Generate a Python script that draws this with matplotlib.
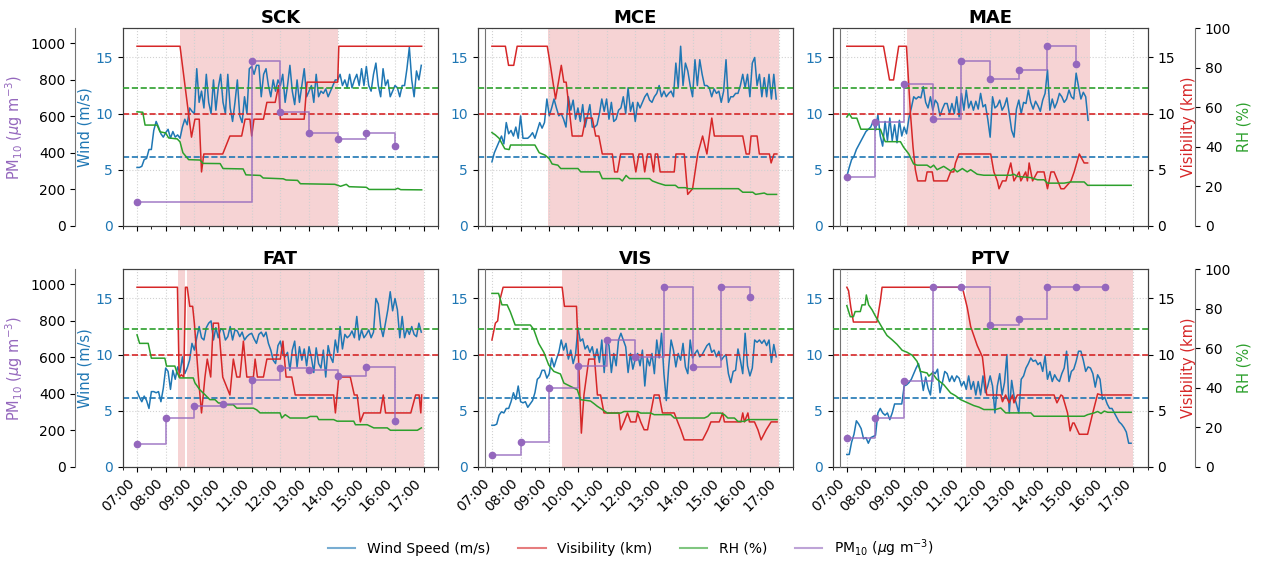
import numpy as np
import matplotlib
matplotlib.use("Agg")
import matplotlib.pyplot as plt
from matplotlib.lines import Line2D
from matplotlib.ticker import MultipleLocator, FuncFormatter

# ---------------- data ----------------
STATIONS = ["SCK", "MCE", "MAE", "FAT", "VIS", "PTV"]
PM_HOURS = [7, 8, 9, 10, 11, 12, 13, 14, 15, 16]
WIND_START = 7.0          # first wind sample (h)
WIND_STEP_MIN = 5         # wind sampled every 5 min
WIND_THR = 6.1            # m/s
VIS_THR = 10.0            # km
RH_THR = 70.0             # %

SCK_WIND = [5.2, 5.2, 5.3, 5.9, 6.0, 6.8, 6.8, 8.5, 9.3, 8.8, 8.2, 7.9,
            8.3, 8.6, 7.8, 8.4, 7.9, 8.1, 7.8, 8.8, 9.5, 9.0, 10.5, 10.2,
            10.0, 14.0, 11.0, 12.0, 10.5, 13.5, 11.0, 10.0, 13.0, 10.3, 12.3, 13.5,
            11.0, 10.0, 13.5, 10.5, 9.3, 11.0, 13.0, 9.8, 9.2, 11.5, 10.0, 14.0,
            14.2, 13.5, 14.3, 14.3, 11.5, 13.5, 14.0, 12.5, 11.5, 13.0, 12.0, 13.0,
            12.5, 13.5, 11.0, 12.5, 14.3, 12.0, 10.8, 13.0, 11.0, 12.5, 14.0, 11.5,
            12.0, 12.5, 11.0, 13.5, 11.5, 12.0, 11.8, 12.2, 11.5, 12.0, 12.5, 13.0,
            13.0, 13.5, 12.5, 13.0, 12.3, 13.5, 12.3, 13.0, 13.5, 12.5, 14.0, 12.5,
            14.2, 12.5, 12.0, 13.5, 14.5, 12.5, 11.5, 14.0, 12.5, 13.0, 11.5, 12.0,
            12.5, 12.3, 11.5, 12.5, 12.5, 14.0, 15.9, 13.0, 11.5, 13.8, 13.0, 14.3]
SCK_VIS_T = [7.0, 8.5, 8.9, 9.02, 9.17, 9.25, 9.33, 9.99, 10.24, 10.65, 10.77, 10.94, 11.0,
             11.08, 11.41, 11.53, 11.82, 11.94, 12.0, 12.83, 12.93, 14.0, 14.04, 16.93]
SCK_VIS = [16.0, 16.0, 7.9, 9.5, 9.5, 4.8, 6.4, 6.4, 8.0, 8.0, 9.5, 9.5, 8.0,
           9.5, 9.5, 11.0, 11.0, 12.5, 9.5, 9.5, 12.8, 12.8, 16.0, 16.0]
SCK_RH_T = [7.0, 7.2, 7.28, 7.7, 7.8, 8.0, 8.1, 8.4, 8.5, 8.6, 8.8, 9.2, 9.3, 9.9, 10.0,
            10.7, 10.8, 11.3, 11.4, 12.1, 12.2, 12.6, 12.7, 13.9, 14.1, 14.3, 14.4, 15.0,
            15.1, 16.0, 16.1, 16.2, 16.93]
SCK_RH = [57.7, 57.5, 51.0, 51.0, 47.6, 47.0, 44.5, 44.0, 42.5, 37.0, 33.5, 33.3, 31.6, 31.5, 29.0,
          28.8, 25.8, 25.5, 24.2, 23.8, 23.2, 23.0, 21.3, 21.0, 20.0, 21.0, 19.8, 19.5,
          18.4, 18.4, 19.0, 18.3, 18.2]
SCK_PM10 = [129, None, None, None, 902, 623, 510, 474, 507, 437]
SCK_EVENT = [(8.5, 14.0)]

MCE_WIND = [5.7, 6.5, 7.0, 7.5, 8.0, 7.3, 9.2, 8.2, 8.5, 8.0, 8.8, 7.8,
            9.8, 7.8, 7.8, 7.8, 8.0, 8.3, 7.8, 8.5, 9.2, 8.7, 9.2, 11.3,
            9.8, 10.5, 11.3, 10.5, 9.8, 10.0, 9.5, 8.8, 11.5, 10.3, 11.2, 9.5,
            10.5, 9.3, 10.8, 8.8, 9.8, 10.8, 8.8, 8.8, 9.0, 10.0, 11.3, 10.2,
            11.3, 9.5, 11.0, 9.3, 9.5, 10.3, 10.5, 11.5, 10.0, 12.3, 10.2, 11.0,
            9.3, 11.0, 10.5, 11.0, 11.5, 11.8, 11.2, 11.0, 11.5, 11.8, 12.5, 11.5,
            12.0, 11.5, 11.8, 12.0, 11.5, 14.5, 12.3, 16.0, 12.5, 14.5, 13.8, 12.5,
            11.5, 14.8, 12.5, 14.8, 13.5, 12.5, 12.5, 12.3, 11.5, 12.2, 11.8, 12.0,
            11.0, 12.0, 14.8, 11.0, 11.5, 11.5, 11.8, 11.8, 12.5, 13.5, 12.3, 13.5,
            11.5, 14.5, 15.0, 12.5, 13.5, 11.5, 13.2, 11.5, 13.5, 11.3, 13.5, 11.3]
MCE_VIS_T = [7.0, 7.47, 7.58, 7.76, 7.88, 8.93, 9.04, 9.22, 9.42, 9.51, 9.59, 9.80, 10.15,
             10.27, 10.50, 10.62, 10.73, 10.85, 11.20, 11.28, 11.38, 11.49, 11.92, 12.02,
             12.13, 12.25, 12.33, 12.43, 12.54, 12.64, 12.70, 12.78, 12.87, 13.36, 13.42,
             13.71, 13.83, 14.0, 14.18, 14.35, 14.50, 14.67, 14.76, 15.75, 15.87, 15.98,
             16.04, 16.25, 16.33, 16.68, 16.74, 16.84, 16.94]
MCE_VIS = [16.0, 16.0, 14.3, 14.3, 16.0, 16.0, 14.3, 11.3, 14.3, 12.8, 12.8, 8.0, 8.0,
           9.6, 9.6, 8.0, 8.0, 6.4, 6.4, 4.8, 4.8, 6.4, 6.4, 4.8,
           6.4, 6.4, 4.8, 6.4, 6.4, 4.8, 6.4, 6.4, 4.8, 4.8, 6.4,
           6.4, 2.8, 3.3, 6.4, 8.0, 6.4, 9.6, 8.0, 8.0, 6.4, 6.4,
           8.0, 8.0, 6.4, 6.4, 5.6, 6.4, 6.4]
MCE_RH_T = [7.0, 7.12, 7.25, 7.45, 7.60, 7.65, 8.5, 8.65, 8.85, 9.0, 9.1, 9.3, 9.4, 10.0,
            10.1, 10.75, 10.85, 11.45, 11.55, 11.68, 11.8, 12.5, 12.6, 12.8, 13.05, 13.4,
            13.5, 13.75, 13.85, 15.6, 15.75, 16.1, 16.2, 16.5, 16.6, 16.93]
MCE_RH = [47.2, 46.0, 44.3, 39.0, 38.6, 40.9, 40.9, 37.0, 35.8, 34.0, 31.3, 30.7, 29.0, 29.0,
          27.3, 27.3, 23.9, 23.9, 22.7, 25.5, 23.9, 23.9, 22.7, 21.6, 20.5, 20.5,
          19.3, 19.3, 18.8, 18.8, 17.0, 17.0, 15.9, 16.6, 15.9, 15.9]
MCE_PM10 = [None] * 10
MCE_EVENT = [(8.95, 17.0)]

MAE_WIND = [4.4, 5.2, 5.9, 6.2, 6.8, 7.2, 7.6, 8.0, 8.4, 8.6, 8.8, 9.3,
            8.5, 9.9, 8.0, 7.1, 9.3, 7.6, 9.6, 7.6, 9.0, 7.4, 9.4, 8.0,
            8.8, 8.2, 9.6, 10.5, 11.5, 11.3, 11.5, 11.4, 12.4, 11.0, 10.5, 11.5,
            10.3, 11.2, 10.9, 9.8, 10.4, 10.9, 10.9, 10.0, 10.9, 10.0, 11.5, 9.7,
            11.8, 10.3, 12.1, 10.5, 11.1, 10.3, 11.1, 10.4, 11.8, 10.6, 10.8, 9.5,
            7.9, 11.5, 10.5, 10.7, 11.2, 10.3, 10.7, 11.4, 10.0, 8.5, 7.9, 10.4,
            11.2, 10.0, 11.0, 10.9, 12.1, 11.0, 10.4, 11.1, 10.7, 10.2, 11.2, 11.8,
            13.9, 10.3, 11.3, 10.5, 11.0, 11.8, 11.5, 11.0, 11.3, 12.1, 11.5, 11.3,
            13.6, 12.4, 11.3, 11.9, 11.5, 9.4]
MAE_VIS_T = [7.0, 8.28, 8.49, 8.63, 8.81, 9.08, 9.22, 9.31, 9.39, 9.47, 9.74, 9.80, 9.98,
             10.03, 10.50, 10.62, 10.73, 10.79, 10.91, 12.02, 12.13, 12.25, 12.31, 12.43,
             12.55, 12.72, 12.83, 13.01, 13.07, 13.24, 13.30, 13.36, 13.48, 13.65, 13.88,
             14.0, 14.12, 14.23, 14.47, 14.58, 14.82, 14.93, 15.11, 15.28, 15.40]
MAE_VIS = [16.0, 16.0, 13.0, 13.0, 16.0, 16.0, 10.0, 7.0, 5.0, 4.0, 4.0, 4.8, 4.8,
           4.0, 4.0, 4.8, 4.8, 5.6, 6.4, 6.4, 4.8, 4.0, 3.3, 4.0,
           4.0, 5.6, 4.0, 4.8, 4.0, 4.8, 4.0, 5.6, 4.0, 4.8, 4.8,
           3.3, 4.8, 4.8, 3.3, 3.3, 4.0, 4.8, 6.4, 5.6, 5.6]
MAE_RH_T = [7.0, 7.08, 7.18, 7.35, 7.49, 8.17, 8.34, 8.87, 8.98, 9.16, 9.33, 9.45, 9.80,
            9.92, 10.03, 10.15, 10.38, 10.62, 10.73, 10.85, 11.03, 11.20, 11.32, 11.55,
            11.78, 12.72, 12.83, 12.95, 13.42, 13.65, 13.88, 14.0, 14.58, 14.82, 15.28,
            15.40, 16.92]
MAE_RH = [55.1, 56.8, 54.5, 54.5, 48.9, 48.9, 42.6, 42.6, 39.8, 36.4, 31.3, 30.7, 30.7,
          29.5, 30.7, 28.4, 30.1, 27.8, 29.0, 27.3, 29.0, 27.3, 28.4, 26.1,
          25.6, 25.6, 26.1, 25.0, 24.4, 23.3, 23.3, 21.6, 21.6, 22.2, 22.2,
          20.5, 20.5]
MAE_PM10 = [270, 570, 776, 585, 902, 805, 851, 986, 889, None]
MAE_EVENT = [(9.1, 15.48)]

FAT_WIND = [6.7, 6.2, 5.8, 6.3, 5.9, 5.2, 6.7, 6.7, 6.6, 6.7, 5.8, 7.0,
            8.8, 8.5, 6.9, 8.6, 7.8, 8.9, 8.4, 9.8, 8.3, 8.8, 9.5, 11.0,
            10.4, 11.5, 12.5, 11.5, 11.3, 12.4, 12.8, 13.0, 11.3, 12.4, 11.5, 12.3,
            12.2, 11.3, 11.6, 12.5, 11.3, 12.2, 12.1, 11.6, 12.0, 11.3, 11.6, 11.8,
            11.9, 11.4, 11.0, 11.8, 12.0, 11.6, 12.0, 11.0, 10.4, 9.5, 9.2, 10.8,
            11.2, 10.1, 9.8, 10.2, 8.6, 10.4, 11.2, 8.9, 10.7, 9.5, 10.5, 9.0,
            10.7, 9.7, 8.4, 10.6, 9.2, 8.8, 10.4, 8.0, 10.8, 9.8, 9.3, 11.3,
            10.2, 12.5, 10.5, 11.8, 11.5, 11.7, 12.1, 11.5, 13.4, 11.3, 12.2, 11.5,
            11.8, 12.2, 11.5, 12.0, 15.0, 14.5, 12.5, 11.6, 12.8, 14.0, 15.6, 13.9,
            15.0, 14.0, 11.5, 13.4, 11.5, 12.3, 11.8, 12.5, 11.8, 11.6, 12.8, 12.0]
FAT_VIS_T = [7.0, 8.41, 8.47, 8.55, 8.63, 8.69, 8.75, 8.84, 8.94, 9.0, 9.14, 9.25, 9.37,
             9.45, 9.57, 9.66, 9.84, 9.99, 10.24, 10.36, 10.48, 10.59, 10.65, 10.71, 10.83,
             11.06, 11.12, 11.2, 11.41, 11.53, 12.0, 12.09, 12.2, 12.4, 12.52, 12.69, 13.86,
             13.92, 14.04, 14.44, 14.58, 14.68, 14.79, 14.91, 15.49, 15.59, 15.67, 16.02,
             16.55, 16.72, 16.84, 16.9, 16.93]
FAT_VIS = [16.0, 16.0, 8.0, 8.2, 8.0, 16.0, 16.0, 14.3, 14.3, 12.8, 8.0, 4.8, 8.0,
           9.6, 8.0, 12.8, 12.8, 8.0, 6.4, 9.6, 8.0, 8.0, 9.6, 11.2, 8.0,
           8.0, 9.6, 8.0, 8.0, 9.6, 9.6, 11.2, 8.0, 8.0, 6.4, 6.4, 6.4,
           4.8, 8.0, 8.0, 6.4, 6.4, 4.0, 4.8, 4.8, 6.4, 4.8, 4.8,
           4.8, 6.4, 6.4, 4.8, 6.4]
FAT_RH_T = [7.0, 7.09, 7.39, 7.50, 7.97, 8.03, 8.32, 8.38, 8.49, 8.96, 9.02, 9.19, 9.37,
            9.54, 9.72, 9.84, 9.95, 10.01, 10.36, 10.48, 11.06, 11.18, 11.29, 11.99, 12.05,
            12.17, 12.34, 12.93, 13.04, 13.28, 13.34, 13.86, 13.98, 14.56, 14.62, 15.03,
            15.26, 15.73, 15.84, 16.78, 16.92]
FAT_RH = [66.8, 62.5, 62.5, 55.0, 55.0, 51.0, 51.0, 48.3, 45.0, 45.0, 42.5, 39.0, 36.5,
          34.0, 34.0, 32.3, 32.3, 31.4, 31.4, 29.7, 29.7, 28.8, 27.3, 27.3, 24.7,
          26.4, 24.7, 24.7, 25.5, 25.5, 23.9, 23.9, 23.1, 23.1, 21.3, 21.3,
          19.7, 19.7, 18.5, 18.5, 19.7]
FAT_PM10 = [125, 266, 332, 346, 477, 541, 532, 499, 545, 250]
FAT_EVENT = [(8.43, 8.69), (8.75, 17.0)]

VIS_WIND = [3.7, 3.7, 3.8, 4.6, 4.9, 4.8, 5.2, 5.2, 5.8, 6.6, 6.0, 7.2,
            5.8, 5.7, 5.8, 5.3, 5.6, 5.9, 6.6, 7.8, 8.0, 8.6, 8.6, 7.9,
            8.3, 9.7, 8.9, 9.6, 10.2, 11.3, 10.4, 11.0, 9.6, 10.4, 9.2, 10.0,
            12.4, 11.2, 11.4, 10.5, 10.8, 10.2, 10.7, 9.6, 10.5, 9.3, 11.3, 8.4,
            11.4, 10.8, 8.4, 10.1, 9.0, 11.3, 11.9, 11.3, 10.7, 8.4, 10.1, 8.7,
            9.6, 10.1, 9.0, 10.4, 7.2, 9.7, 9.0, 10.1, 8.3, 11.3, 9.7, 11.9,
            8.3, 5.9, 8.9, 11.3, 10.4, 8.9, 10.1, 9.5, 11.0, 8.9, 8.3, 11.3,
            9.7, 10.1, 10.4, 9.8, 10.0, 10.4, 10.8, 11.0, 10.2, 10.4, 9.8, 10.3,
            9.5, 9.8, 10.0, 8.3, 7.5, 8.5, 8.6, 10.5, 9.5, 8.3, 11.9, 9.0,
            8.1, 8.8, 11.3, 11.1, 11.3, 11.0, 11.3, 10.8, 11.3, 9.3, 10.9, 9.8]
VIS_VIS_T = [7.0, 7.12, 7.20, 7.29, 7.39, 9.45, 9.53, 9.95, 10.12, 10.21, 10.38, 10.58,
             10.68, 10.79, 10.91, 11.43, 11.49, 11.61, 11.73, 11.84, 12.02, 12.08, 12.19,
             12.31, 12.43, 12.54, 12.66, 12.83, 12.95, 13.36, 13.48, 13.59, 13.71, 14.35,
             14.53, 14.64, 14.93, 15.05, 15.11, 15.69, 15.75, 15.81, 15.93, 15.98, 16.16,
             16.28, 16.39, 16.57, 16.74, 16.95]
VIS_VIS = [11.3, 12.8, 13.0, 15.0, 16.0, 16.0, 14.3, 14.3, 3.0, 6.4, 9.6, 9.6,
           6.4, 6.4, 4.8, 4.8, 3.3, 4.0, 4.8, 4.0, 4.0, 4.8, 4.0,
           3.3, 3.3, 4.8, 6.4, 6.4, 4.8, 4.8, 4.0, 3.3, 2.4, 2.4,
           3.3, 4.0, 4.0, 4.8, 4.0, 4.0, 4.8, 4.0, 4.8, 4.0, 4.0,
           3.3, 2.4, 3.3, 4.0, 4.0]
VIS_RH_T = [7.0, 7.23, 7.35, 7.53, 7.64, 7.81, 8.34, 8.46, 8.63, 8.81, 8.98, 9.16, 9.39,
            9.51, 9.98, 10.09, 10.44, 10.56, 10.68, 10.85, 11.03, 11.49, 11.61, 12.08,
            12.19, 12.54, 12.66, 13.24, 13.36, 14.41, 14.53, 14.64, 14.99, 15.11, 15.23,
            15.46, 15.58, 15.81, 15.93, 16.95]
VIS_RH = [87.8, 87.8, 82.0, 82.0, 78.5, 71.8, 71.8, 69.5, 62.5, 58.0, 51.6, 48.3, 47.0,
          42.4, 39.0, 34.0, 33.3, 32.0, 30.6, 29.0, 27.2, 27.2, 28.0, 28.0,
          27.2, 27.2, 26.4, 26.4, 24.7, 24.7, 25.5, 27.2, 27.2, 26.4, 24.7,
          24.7, 23.0, 23.0, 23.9, 23.9]
VIS_PM10 = [64, 136, 432, 550, 696, 601, 987, 545, 987, 929]
VIS_EVENT = [(9.45, 17.0)]

PTV_WIND = [1.1, 1.1, 2.2, 2.9, 4.1, 3.8, 3.4, 2.5, 2.6, 2.1, 2.6, 2.7,
            2.8, 4.8, 5.2, 4.8, 4.6, 4.8, 4.2, 4.8, 5.6, 5.6, 5.6, 5.6,
            7.2, 7.3, 7.5, 7.8, 8.3, 8.8, 9.2, 8.3, 6.8, 8.0, 7.0, 6.4,
            8.5, 8.3, 8.7, 6.6, 7.5, 8.5, 8.3, 7.6, 8.1, 7.6, 8.1, 7.9,
            7.2, 7.6, 6.9, 8.1, 6.9, 7.6, 6.4, 7.6, 6.4, 8.1, 6.6, 7.2,
            8.1, 7.2, 4.8, 7.2, 8.3, 6.4, 7.5, 10.0, 4.8, 7.7, 6.3, 5.6,
            4.8, 7.8, 8.1, 8.8, 9.2, 9.7, 9.4, 9.5, 9.1, 9.3, 8.5, 9.9,
            7.8, 8.5, 7.6, 8.2, 7.8, 7.6, 8.3, 8.8, 10.3, 7.6, 8.5, 8.7,
            9.4, 10.3, 10.3, 9.5, 8.5, 8.9, 8.8, 8.3, 7.1, 8.2, 7.8, 6.0,
            6.2, 5.6, 5.2, 5.2, 4.8, 4.4, 4.0, 3.8, 3.5, 3.1, 2.1, 2.1]
PTV_VIS_T = [7.0, 7.06, 7.14, 7.23, 7.99, 8.05, 8.17, 8.23, 11.03, 11.2, 11.32, 11.55,
             11.73, 11.88, 12.37, 12.43, 12.54, 12.66, 12.78, 12.83, 12.95, 14.23, 14.33,
             14.47, 14.53, 14.70, 14.79, 14.88, 14.93, 15.11, 15.40, 15.58, 15.75, 15.87,
             16.92]
PTV_VIS = [16.0, 15.7, 14.2, 12.9, 12.9, 12.9, 14.8, 16.0, 16.0, 14.2, 12.5, 10.8,
           9.8, 6.4, 6.4, 5.8, 6.4, 5.7, 6.4, 5.7, 6.4, 6.4, 5.7,
           6.4, 6.3, 4.8, 3.2, 3.9, 3.9, 2.9, 2.9, 4.8, 6.5, 6.4,
           6.4]
PTV_RH_T = [7.0, 7.12, 7.23, 7.29, 7.47, 7.53, 7.64, 7.68, 7.76, 7.88, 7.99, 8.11, 8.23,
            8.40, 8.58, 8.75, 8.93, 9.10, 9.28, 9.45, 9.57, 9.80, 9.86, 9.98, 10.13,
            10.38, 10.62, 10.79, 10.97, 11.20, 11.43, 11.61, 11.78, 12.19, 12.37, 12.54,
            13.42, 13.53, 15.28, 15.40, 15.63, 15.75, 15.87, 15.98, 16.10, 16.92]
PTV_RH = [81.6, 76.0, 76.0, 78.6, 78.6, 82.0, 82.0, 87.0, 82.0, 79.5, 76.5, 73.5, 70.5,
          66.5, 64.3, 62.0, 59.0, 58.0, 56.5, 53.4, 48.3, 47.5, 45.9, 47.5, 44.5,
          41.6, 37.4, 36.0, 34.0, 32.5, 31.0, 30.2, 29.0, 29.0, 29.8, 27.3,
          27.3, 25.6, 25.6, 26.4, 27.3, 28.0, 27.0, 28.2, 27.6, 27.6]
PTV_PM10 = [158, 268, 472, 987, 987, 778, 809, 987, 987, 987]
PTV_EVENT = [(11.17, 17.0)]

# --------------- assemble ---------------
DATA = {
    "SCK": (SCK_WIND, SCK_VIS_T, SCK_VIS, SCK_RH_T, SCK_RH, SCK_PM10, SCK_EVENT),
    "MCE": (MCE_WIND, MCE_VIS_T, MCE_VIS, MCE_RH_T, MCE_RH, MCE_PM10, MCE_EVENT),
    "MAE": (MAE_WIND, MAE_VIS_T, MAE_VIS, MAE_RH_T, MAE_RH, MAE_PM10, MAE_EVENT),
    "FAT": (FAT_WIND, FAT_VIS_T, FAT_VIS, FAT_RH_T, FAT_RH, FAT_PM10, FAT_EVENT),
    "VIS": (VIS_WIND, VIS_VIS_T, VIS_VIS, VIS_RH_T, VIS_RH, VIS_PM10, VIS_EVENT),
    "PTV": (PTV_WIND, PTV_VIS_T, PTV_VIS, PTV_RH_T, PTV_RH, PTV_PM10, PTV_EVENT),
}

C_WIND, C_VIS, C_RH, C_PM = "tab:blue", "tab:red", "tab:green", "tab:purple"
W, H = 1261, 563
fig = plt.figure(figsize=(W / 100, H / 100), dpi=100)

AX_W, AX_H = 315.3, 197.5
COL_L = [122.7, 477.6, 832.5]
ROW_T = [28.3, 269.3]
WIND_TOP = 17.6
PM_TOP = 1082
FRAME = "0.25"

hour_fmt = FuncFormatter(lambda x, pos: f"{int(round(x)):02d}:00")

for i, st in enumerate(STATIONS):
    r, c = divmod(i, 3)
    wind, vis_t, vis, rh_t, rh, pm, events = DATA[st]
    rect = [COL_L[c] / W, 1 - (ROW_T[r] + AX_H) / H, AX_W / W, AX_H / H]
    ax = fig.add_axes(rect)
    axv = ax.twinx()
    axr = ax.twinx()
    axp = ax.twinx()

    for a, b in events:
        ax.axvspan(a, b, color=C_VIS, alpha=0.2, lw=0, zorder=0)

    tw = WIND_START + np.arange(len(wind)) * WIND_STEP_MIN / 60.0
    ax.plot(tw, wind, color=C_WIND, lw=1.1)
    ax.axhline(WIND_THR, color=C_WIND, ls="--", lw=1.2)
    axv.plot(vis_t, vis, color=C_VIS, lw=1.1)
    axv.axhline(VIS_THR, color=C_VIS, ls="--", lw=1.2)
    axr.plot(rh_t, rh, color=C_RH, lw=1.1)
    axr.axhline(RH_THR, color=C_RH, ls="--", lw=1.2)

    ph = np.array([h for h, v in zip(PM_HOURS, pm) if v is not None], dtype=float)
    pv = np.array([v for v in pm if v is not None], dtype=float)
    if len(ph):
        axp.step(ph, pv, where="post", color=C_PM, lw=1.2, alpha=0.8)
        axp.plot(ph, pv, "o", color=C_PM, ms=4.5)

    ax.set_xlim(6.5, 17.5)
    ax.xaxis.set_major_locator(MultipleLocator(1))
    ax.xaxis.set_minor_locator(MultipleLocator(0.5))
    ax.xaxis.set_major_formatter(hour_fmt)
    ax.grid(True, which="major", ls=":", color="0.82", lw=0.8)
    ax.tick_params(axis="x", which="major", length=3.5, labelsize=10)
    ax.tick_params(axis="x", which="minor", length=2)
    if r == 0:
        ax.tick_params(axis="x", labelbottom=False)
    else:
        plt.setp(ax.get_xticklabels(), rotation=45, ha="right")

    ax.set_ylim(0, WIND_TOP)
    ax.set_yticks([0, 5, 10, 15])
    ax.tick_params(axis="y", labelcolor=C_WIND, labelsize=10)
    axv.set_ylim(0, WIND_TOP)
    axv.set_yticks([0, 5, 10, 15])
    axr.set_ylim(0, 100)
    axr.set_yticks(range(0, 101, 20))
    axp.set_ylim(0, PM_TOP)
    axp.set_yticks(range(0, 1001, 200))

    ax.set_title(st, fontsize=13, fontweight="bold", pad=4)

    # PM10 axis
    axp.yaxis.set_ticks_position("left")
    axp.yaxis.set_label_position("left")
    axp.spines["right"].set_visible(False)
    axp.spines["top"].set_visible(False)
    axp.spines["bottom"].set_visible(False)
    if c == 0:
        axp.spines["left"].set_position(("axes", -0.15))
        axp.tick_params(axis="y", labelsize=10)
        axp.set_ylabel(r"PM$_{10}$ ($\mu$g m$^{-3}$)", color=C_PM, fontsize=10.5)
        ax.set_ylabel("Wind (m/s)", color=C_WIND, fontsize=10.5, labelpad=2)
        axp.spines["left"].set_color("0.45")
    else:
        axp.spines["left"].set_position(("axes", 0.023))
        axp.tick_params(axis="y", left=False, labelleft=False)
        axp.spines["left"].set_color("0.45")

    # visibility / RH axes
    axr.spines["left"].set_visible(False)
    axr.spines["top"].set_visible(False)
    axr.spines["bottom"].set_visible(False)
    if c == 2:
        axv.tick_params(axis="y", labelsize=10)
        axv.set_ylabel("Visibility (km)", color=C_VIS, fontsize=10.5)
        axr.spines["right"].set_position(("axes", 1.15))
        axr.spines["right"].set_color("0.45")
        axr.tick_params(axis="y", labelsize=10)
        axr.set_ylabel("RH (%)", color=C_RH, fontsize=10.5)
    else:
        axv.tick_params(axis="y", right=False, labelright=False)
        axr.tick_params(axis="y", right=False, labelright=False)
        axr.spines["right"].set_visible(False)

    for a in (ax, axv):
        for s in a.spines.values():
            s.set_color(FRAME)

handles = [
    Line2D([], [], color=C_WIND, lw=1.5, alpha=0.6, label="Wind Speed (m/s)"),
    Line2D([], [], color=C_VIS, lw=1.5, alpha=0.6, label="Visibility (km)"),
    Line2D([], [], color=C_RH, lw=1.5, alpha=0.6, label="RH (%)"),
    Line2D([], [], color=C_PM, lw=1.5, alpha=0.6, label=r"PM$_{10}$ ($\mu$g m$^{-3}$)"),
]
fig.legend(handles=handles, loc="center", bbox_to_anchor=(0.5, 1 - 548 / H), ncol=4,
           frameon=False, fontsize=10, columnspacing=2.0)

fig.savefig("out.png", dpi=100)
